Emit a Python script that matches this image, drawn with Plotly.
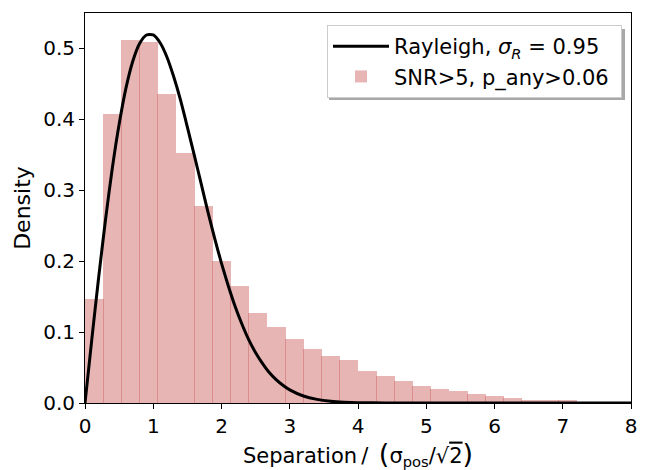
import plotly.graph_objects as go

# Histogram (density): bin edges 0..8 in 30 equal bins
bin_width = 8 / 30
hist_density = [0.147, 0.408, 0.512, 0.509, 0.436, 0.353, 0.278, 0.200, 0.165,
                0.127, 0.107, 0.090, 0.076, 0.066, 0.061, 0.045, 0.038, 0.031,
                0.024, 0.020, 0.017, 0.013, 0.010, 0.007, 0.004, 0.004, 0.004]
bin_centers = [(i + 0.5) * bin_width for i in range(len(hist_density))]

# Rayleigh curve, values
curve_x = [0, 0.1, 0.2, 0.3, 0.4, 0.5, 0.6, 0.7, 0.8, 0.9, 1.0, 1.1, 1.2, 1.3,
           1.4, 1.5, 1.6, 1.7, 1.8, 1.9, 2.0, 2.1, 2.2, 2.3, 2.4, 2.5, 2.6,
           2.7, 2.8, 2.9, 3.0, 3.2, 3.4, 3.6, 3.8, 4.0, 4.4, 5.0, 6.0, 7.0, 8.0]
curve_y = [0, 0.090, 0.177, 0.258, 0.331, 0.393, 0.444, 0.482, 0.507, 0.519,
           0.519, 0.508, 0.488, 0.460, 0.427, 0.389, 0.350, 0.310, 0.270,
           0.232, 0.197, 0.165, 0.136, 0.111, 0.089, 0.071, 0.056, 0.043,
           0.033, 0.025, 0.0185, 0.0099, 0.0051, 0.0025, 0.0012, 0.0005,
           0.0001, 0, 0, 0, 0]

x_ticks = [0, 1, 2, 3, 4, 5, 6, 7, 8]
y_ticks = [0.0, 0.1, 0.2, 0.3, 0.4, 0.5]

FONT = "DejaVu Sans"

fig = go.Figure()
fig.add_trace(go.Bar(
    x=bin_centers, y=hist_density, width=bin_width * 1.045,
    marker=dict(color="rgba(205,92,92,0.45)", line=dict(width=0)),
    name="SNR>5, p_any>0.06\u00a0", legendrank=2,
))
fig.add_trace(go.Scatter(
    x=curve_x, y=curve_y, mode="lines",
    line=dict(color="black", width=3, shape="spline", smoothing=0.6),
    name="Rayleigh, <i>σ<sub>R</sub></i> = 0.95", legendrank=1,
))

# page body has an 8px default margin: figure occupies (8..652, 8..470)
OFF = 8
W, H = 652 - OFF, 470 - OFF
# target plot box in window pixels: x 85..631, y 13..403
L, R, T, B = 85 - OFF, 652 - 631, 13 - OFF, 470 - 403
PW, PH = W - L - R, H - T - B

def px_x(p):  # window pixel -> paper x
    return (p - 85) / PW

def px_y(p):  # window pixel -> paper y
    return (403 - p) / PH

# legend shadow (offset down-right of the legend box)
fig.add_shape(type="rect", xref="paper", yref="paper",
              x0=px_x(329), x1=px_x(625),
              y0=px_y(100), y1=px_y(29),
              fillcolor="#a8a8a8", line=dict(width=0), layer="above")

axis_common = dict(
    showline=True, linecolor="black", linewidth=1, mirror=True,
    ticks="outside", ticklen=5, tickwidth=1, tickcolor="black",
    showgrid=False, zeroline=False, automargin=False,
    tickfont=dict(family=FONT, size=20, color="black"),
)

x_title = ("Separation\u2009/\u2002<span style='font-size:27px'>(</span>σ<sub>pos</sub>/√"
           "<span style='text-decoration:overline'>2</span>"
           "<span style='font-size:27px'>)</span>")

fig.update_layout(
    width=W, height=H,
    margin=dict(l=L, r=R, t=T, b=B),
    paper_bgcolor="white", plot_bgcolor="white",
    font=dict(family=FONT, color="black"),
    bargap=0,
    showlegend=True,
    legend=dict(
        x=px_x(622), y=px_y(25),
        xanchor="right", yanchor="top",
        bgcolor="white", bordercolor="#cccccc", borderwidth=1,
        font=dict(family=FONT, size=21, color="black"),
        itemwidth=56, tracegroupgap=0,
    ),
    xaxis=dict(range=[0, 8], tickvals=x_ticks,
               title=dict(text=x_title, font=dict(family=FONT, size=21), standoff=2),
               **axis_common),
    yaxis=dict(range=[0, 0.55], tickvals=y_ticks, tickformat=".1f",
               title=dict(text="Density", font=dict(family=FONT, size=22), standoff=6),
               **axis_common),
)

fig.write_html("out.html")
